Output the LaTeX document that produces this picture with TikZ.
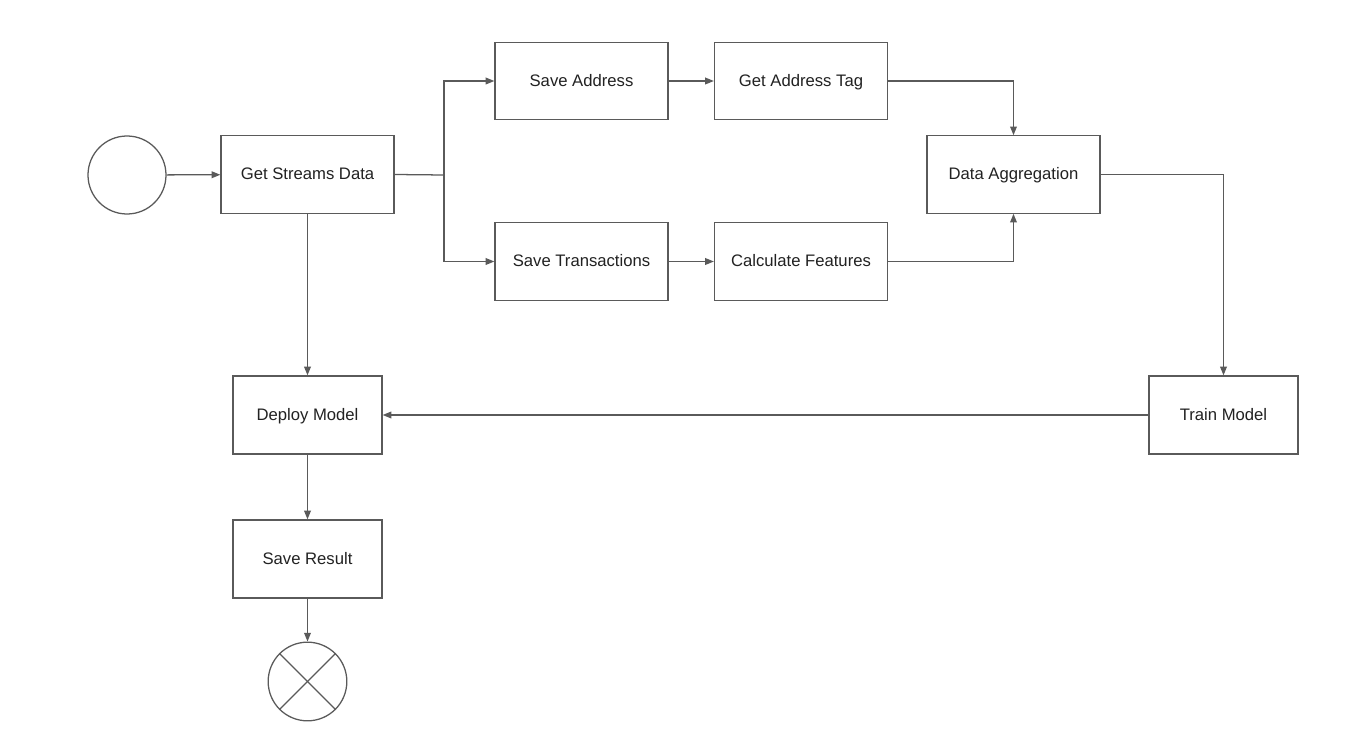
\documentclass[tikz,border=0pt]{standalone}
\usepackage{fontspec}
\setmainfont{Liberation Sans}
\usetikzlibrary{arrows.meta}
\definecolor{edge}{HTML}{5A5A5A}
\definecolor{txt}{HTML}{222222}
\tikzset{
  box/.style={draw=edge, line width=0.95pt, fill=white, inner sep=0pt, font=\fontsize{12.5}{14}\selectfont, text=txt, text height=9pt, text depth=1pt},
  wide/.style={box, minimum width=129.75pt, minimum height=58pt},
  narrow/.style={box, minimum width=111.75pt, minimum height=58.5pt},
  evt/.style={draw=edge, line width=0.95pt, circle, minimum size=58.5pt, inner sep=0pt},
  conn/.style={draw=edge, line width=0.95pt, -{Triangle[length=6.5pt,width=5pt]}},
  plainline/.style={draw=edge, line width=0.95pt}
}
\begin{document}
\begin{tikzpicture}[x=0.75pt, y=-0.75pt]
\useasboundingbox (0,0) rectangle (1364,752);
\fill[white] (0,0) rectangle (1364,752);
\node[evt] (start) at (127,175) {};
\node[wide] (gsd) at (307.5,174.5) {Get Streams Data};
\node[wide] (sa) at (581.5,81) {Save Address};
\node[wide] (gat) at (801,81) {Get Address Tag};
\node[wide] (da) at (1013.5,174.5) {Data Aggregation};
\node[wide] (st) at (581.5,261.5) {Save Transactions};
\node[wide] (cf) at (801,261.5) {Calculate Features};
\node[narrow] (dm) at (307.5,415) {Deploy Model};
\node[narrow] (tm) at (1223.5,415) {Train Model};
\node[narrow] (sr) at (307.5,559) {Save Result};
\node[evt, minimum size=59pt] (end) at (307.5,681.5) {};
\draw[plainline] (end.45) -- (end.225);
\draw[plainline] (end.135) -- (end.-45);
\coordinate (br) at (444,175);
\draw[conn] (start) -- (gsd);
\draw[plainline] (gsd.east) -- (br);
\draw[conn] (br) |- (sa.west);
\draw[conn] (br) |- (st.west);
\draw[conn] (sa) -- (gat);
\draw[conn] (st) -- (cf);
\draw[conn] (gat.east) -| (da.north);
\draw[conn] (cf.east) -| (da.south);
\draw[conn] (da.east) -| (tm.north);
\draw[conn] (tm) -- (dm);
\draw[conn] (gsd) -- (dm);
\draw[conn] (dm) -- (sr);
\draw[conn] (sr) -- (end);
\end{tikzpicture}
\end{document}
